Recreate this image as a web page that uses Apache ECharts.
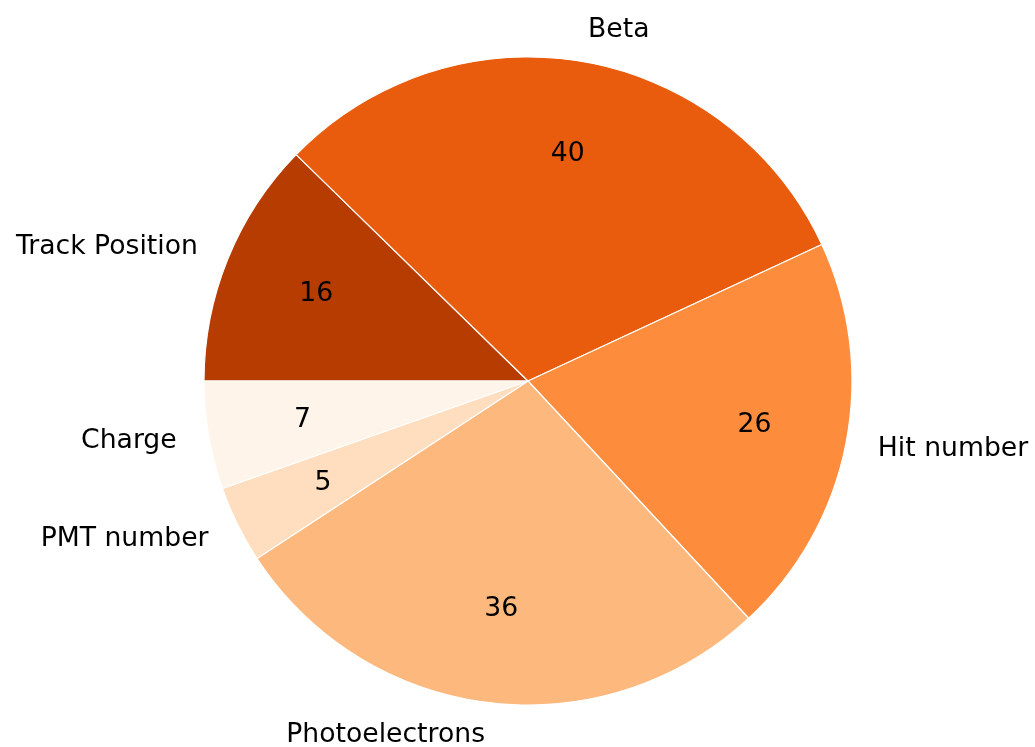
<!DOCTYPE html>
<html>
<head>
<meta charset="utf-8">
<script src="https://cdn.jsdelivr.net/npm/echarts@6/dist/echarts.min.js"></script>
<style>
  html, body { margin: 0; padding: 0; background: #ffffff; }
  #chart { width: 1035px; height: 747px; }
</style>
</head>
<body>
<div id="chart"></div>
<script>
// Wedges in clockwise order, starting from the left horizontal
const categories = ['Track Position', 'Beta', 'Hit number', 'Photoelectrons', 'PMT number', 'Charge'];
const values = [16, 40, 26, 36, 5, 7];
const colors = ['#b63c02', '#e95c0d', '#fd8d3c', '#fdb97d', '#fedebe', '#fff4e9'];

const CENTER = [528, 381];
const R = 324;
const FONT = 'DejaVu Sans';
const FONT_SIZE = 26.67;

const data = categories.map((name, i) => ({
  name: name,
  value: values[i],
  itemStyle: { color: colors[i] }
}));

const chart = echarts.init(document.getElementById('chart'), null, { renderer: 'canvas' });
chart.setOption({
  animation: false,
  backgroundColor: '#ffffff',
  series: [
    {
      // filled wedges with category names just outside the rim
      type: 'pie',
      center: CENTER,
      radius: [0, R],
      startAngle: 180,
      clockwise: true,
      avoidLabelOverlap: false,
      silent: true,
      data: data,
      itemStyle: { borderColor: '#ffffff', borderWidth: 1.2 },
      label: {
        show: true,
        position: 'outside',
        formatter: '{b}',
        color: '#000000',
        fontFamily: FONT,
        fontSize: FONT_SIZE,
        distanceToLabelLine: 0,
        verticalAlign: 'middle',
        padding: [4, 0, 0, 0]
      },
      labelLine: { show: false, length: R * 0.1, length2: 0 },
      emphasis: { disabled: true }
    },
    {
      // transparent ring whose midline carries the value labels
      type: 'pie',
      center: CENTER,
      radius: [R * 0.4, R],
      startAngle: 180,
      clockwise: true,
      avoidLabelOverlap: false,
      silent: true,
      data: categories.map((name, i) => ({ name: name, value: values[i] })),
      itemStyle: { color: 'rgba(0,0,0,0)', borderWidth: 0 },
      label: {
        show: true,
        position: 'inside',
        formatter: '{c}',
        color: '#000000',
        fontFamily: FONT,
        fontSize: FONT_SIZE,
        padding: [4, 0, 0, 2]
      },
      labelLine: { show: false },
      emphasis: { disabled: true }
    }
  ]
});
</script>
</body>
</html>
